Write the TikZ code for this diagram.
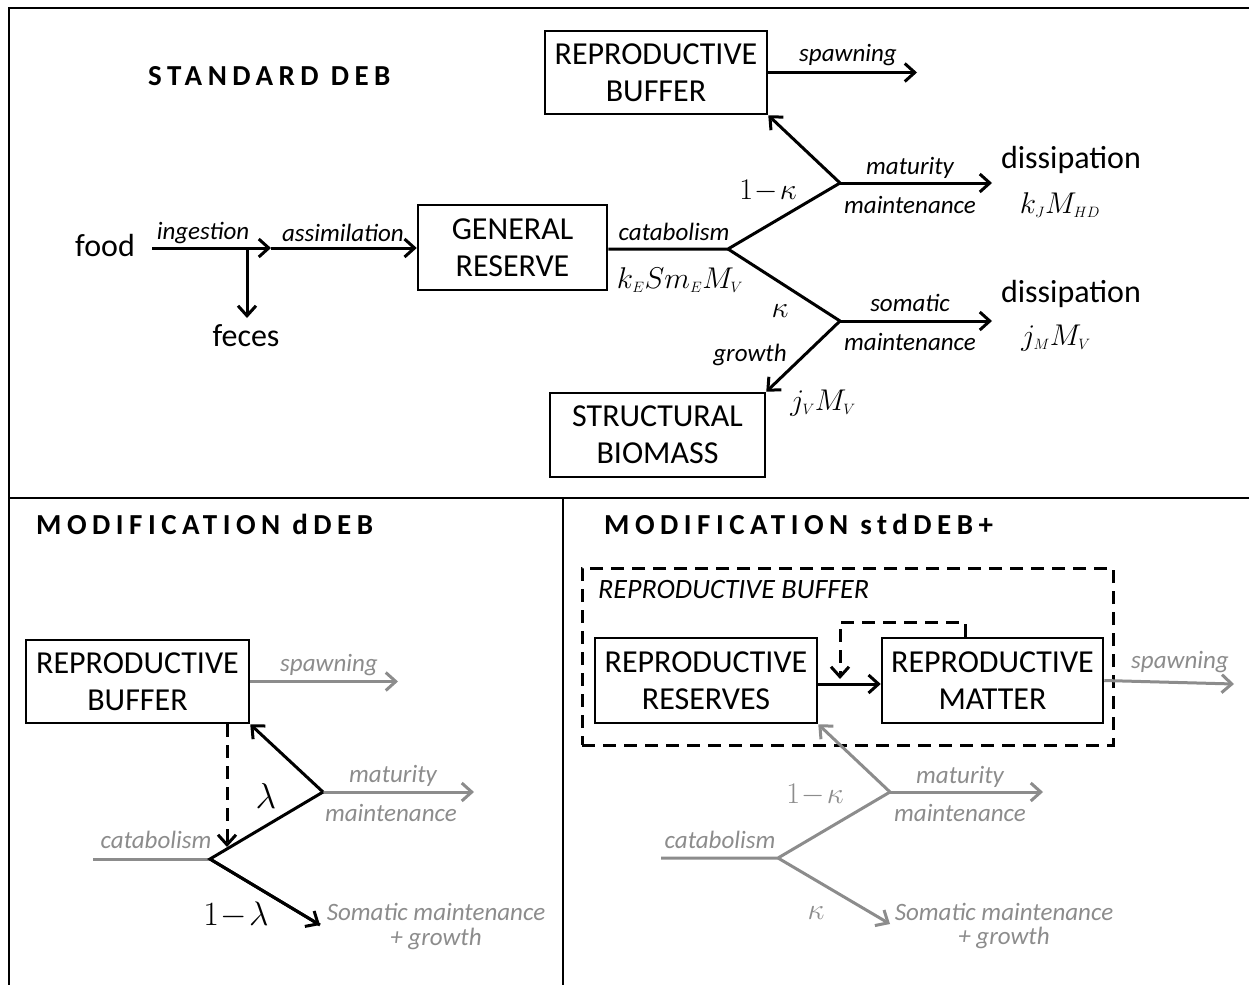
\RequirePackage{fix-cm}
\documentclass[tikz,border=0pt]{standalone}
\usepackage[no-math]{fontspec}
\setmainfont{Carlito}
\usetikzlibrary{arrows.meta}
\definecolor{lgray}{RGB}{140,140,140}
\begin{document}
\begin{tikzpicture}[x=1pt,y=-1pt,
  frame/.style={line width=2.5pt},
  ln/.style={line width=3pt},
  arr/.style={line width=3pt,-{Straight Barb[length=10pt,width=18pt]}},
  dsh/.style={line width=3pt,dash pattern=on 13pt off 8pt},
  gln/.style={ln,draw=lgray},
  garr/.style={arr,draw=lgray},
  box/.style={draw,line width=2.5pt,align=center,inner sep=0pt,font=\fontsize{32}{37}\selectfont},
  big/.style={inner sep=1pt,font=\fontsize{32}{36}\selectfont},
  lab/.style={inner sep=0pt,font=\fontsize{25}{28}\selectfont\itshape},
  glab/.style={lab,text=lgray},
  mth/.style={inner sep=0pt,font=\fontsize{30}{34}\selectfont},
  ttl/.style={inner sep=0pt,anchor=base west,font=\fontsize{29}{32}\selectfont\bfseries\addfontfeature{LetterSpace=19}}
]
\useasboundingbox (0,0) rectangle (1249,985);
% frame
\draw[frame] (1249,8) -- (9,8) -- (9,985);
\draw[frame] (9,498) -- (1249,498);
\draw[frame] (563,498) -- (563,985);

% ---------- STANDARD DEB ----------
\node[ttl] (t1) at (148,85) {STANDARD DEB};
\node[box,minimum width=222pt,minimum height=83pt] (rb) at (656,72.5) {REPRODUCTIVE\\BUFFER};
\node[box,minimum width=189pt,minimum height=85pt] (gen) at (512.5,247.5) {GENERAL\\RESERVE};
\node[box,minimum width=215pt,minimum height=84pt] (str) at (657.5,435) {STRUCTURAL\\BIOMASS};
\node[big] (food) at (105,245) {food};
\node[big] (feces) at (246,336) {feces};
\node[big] (dis1) at (1071,160) {dissipation};
\node[big] (dis2) at (1071,294) {dissipation};

\coordinate (i1) at (271,248);
\coordinate (fb) at (247,248);
\coordinate (c) at (728,249);
\coordinate (u) at (840,183);
\coordinate (d) at (840,321);
\coordinate (e1) at (992,183);
\coordinate (e2) at (992,321);
\coordinate (sp) at (917,72.5);
\coordinate (fe) at (247,318);

\draw[arr] ([xshift=16pt]food.east |- i1) -- (i1);
\draw[arr] (i1) -- (gen.west |- i1);
\draw[arr] (fb) -- (fe);
\draw[ln,line join=miter] (gen.east |- c) -- (c) -- (u);
\draw[ln] (c) -- (d);
\draw[arr] (u) -- (rb.south east);
\draw[arr] (u) -- (e1);
\draw[arr] (d) -- (e2);
\draw[arr] (d) -- (str.north east);
\draw[arr] (rb.east) -- (sp);

\node[lab] (l1) at (203,233) {ingestion};
\node[lab] (l2) at (343,233) {assimilation};
\node[lab] (l3) at (848,55) {spawning};
\node[lab] (l4) at (674,232) {catabolism};
\node[lab] (l5) at (910,168) {maturity};
\node[lab] (l6) at (910,205) {maintenance};
\node[lab] (l7) at (910,303) {somatic};
\node[lab] (l8) at (910,342) {maintenance};
\node[lab] (l9) at (750,355) {growth};
\node[mth] (m1) at (680,280) {$k_{\scriptscriptstyle E}Sm_{\scriptscriptstyle E}M_{\scriptscriptstyle V}$};
\node[mth] (m2) at (768,191) {$1\!-\!\kappa$};
\node[mth] (m3) at (780,311) {$\kappa$};
\node[mth] (m4) at (823,403) {$j_{\scriptscriptstyle V}M_{\scriptscriptstyle V}$};
\node[mth] (m5) at (1060,205) {$k_{\scriptscriptstyle J}M_{\scriptscriptstyle HD}$};
\node[mth] (m6) at (1056,338) {$j_{\scriptscriptstyle M}M_{\scriptscriptstyle V}$};

% ---------- MODIFICATION dDEB ----------
\node[ttl] (t2) at (36,534) {MODIFICATION dDEB};
\node[box,minimum width=223pt,minimum height=83pt] (rbl) at (137.5,681.5) {REPRODUCTIVE\\BUFFER};
\coordinate (sp2) at (398,681.5);
\coordinate (cl1) at (93,859);
\coordinate (b1) at (210,859);
\coordinate (u1) at (323,792);
\coordinate (mt1) at (474,792);
\coordinate (so1) at (320,925);
\coordinate (dt) at (227,847);
\draw[garr] (rbl.east) -- (sp2);
\draw[gln] (cl1) -- (b1);
\draw[garr] (u1) -- (mt1);
\draw[ln,line join=miter] (so1) -- (b1) -- (u1);
\draw[arr] (b1) -- (so1);
\draw[arr] (u1) -- (rbl.south east);
\draw[dsh,-{Straight Barb[length=10pt,width=18pt]}] (rbl.south -| dt) -- (dt);
\node[glab] (g1) at (329,665) {spawning};
\node[glab] (g2) at (156,840) {catabolism};
\node[glab] (g3) at (393,776) {maturity};
\node[glab] (g4) at (391,813) {maintenance};
\node[glab] (g5) at (436,912) {Somatic maintenance};
\node[glab] (g6) at (436,939) {+ growth};
\node[mth,font=\fontsize{36}{40}\selectfont] (lam) at (266,796) {$\lambda$};
\node[mth,font=\fontsize{34}{40}\selectfont] (lam2) at (236,915) {$1\!-\!\lambda$};

% ---------- MODIFICATION stdDEB+ ----------
\node[ttl] (t3) at (604,534) {MODIFICATION stdDEB+};
\node[dsh,draw,minimum width=531pt,minimum height=177pt,inner sep=0pt] (dbox) at (847.5,656.5) {};
\node[lab,anchor=west,font=\fontsize{28}{30}\selectfont\itshape] (bl) at (598,590) {REPRODUCTIVE BUFFER};
\node[box,minimum width=222pt,minimum height=85pt] (rres) at (706,680.5) {REPRODUCTIVE\\RESERVES};
\node[box,minimum width=221pt,minimum height=85pt] (rmat) at (992.5,680.5) {REPRODUCTIVE\\MATTER};
\draw[arr] (rres.east |- 0,684) -- (rmat.west |- 0,684);
\coordinate (fs) at (965,622);
\coordinate (ft) at (840,622);
\coordinate (fe2) at (840,679);
\draw[dsh,-{Straight Barb[length=10pt,width=18pt]},line join=miter] (rmat.north -| fs) -- (fs) -- (ft) -- (fe2);
\coordinate (sp3) at (1234,684);
\draw[garr] (rmat.east) -- (sp3);
\coordinate (cl2) at (661,858);
\coordinate (b2) at (778,858);
\coordinate (u2) at (890,792);
\coordinate (mt2) at (1043,792);
\coordinate (so2) at (890,924);
\draw[gln,line join=miter] (cl2) -- (b2) -- (u2);
\draw[garr] (b2) -- (so2);
\draw[garr] (u2) -- (rres.south east);
\draw[garr] (u2) -- (mt2);
\node[glab] (h1) at (1180,662) {spawning};
\node[glab] (h2) at (720,840) {catabolism};
\node[glab] (h3) at (960,777) {maturity};
\node[glab] (h4) at (960,813) {maintenance};
\node[glab] (h5) at (1004,912) {Somatic maintenance};
\node[glab] (h6) at (1004,938) {+ growth};
\node[mth,text=lgray] (k1) at (815,795) {$1\!-\!\kappa$};
\node[mth,text=lgray] (k2) at (816,913) {$\kappa$};
\end{tikzpicture}
\end{document}
